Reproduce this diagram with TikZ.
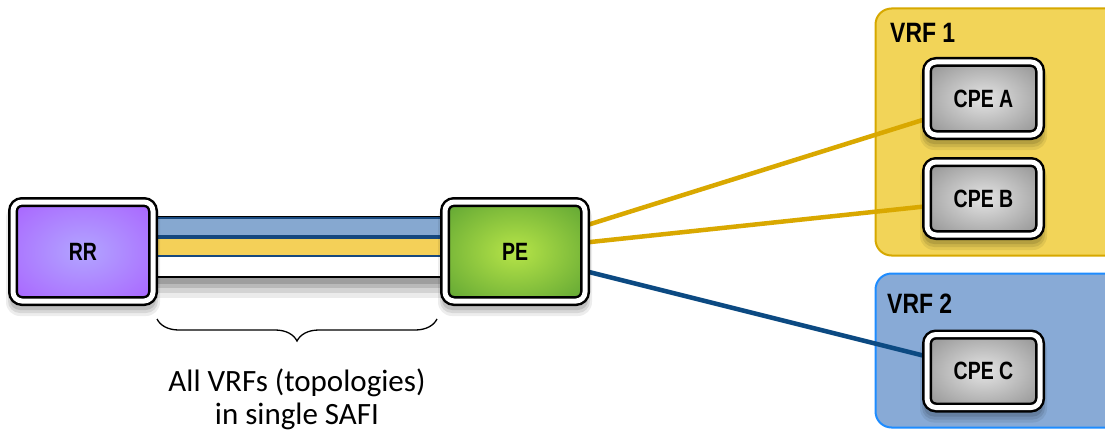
\documentclass[tikz,border=0pt]{standalone}
\usepackage{graphicx}
\usepackage{fontspec}
\setmainfont{Liberation Sans}
\newfontfamily\capfont{Carlito}
\usetikzlibrary{calc,decorations.pathreplacing}

\definecolor{rrin}{RGB}{178,165,255}
\definecolor{rrout}{RGB}{165,72,255}
\definecolor{pein}{RGB}{182,228,72}
\definecolor{peout}{RGB}{58,138,42}
\definecolor{cpein}{RGB}{228,228,228}
\definecolor{cpeout}{RGB}{108,108,108}
\definecolor{vrfAfill}{RGB}{242,212,88}
\definecolor{vrfAline}{RGB}{214,168,0}
\definecolor{vrfBfill}{RGB}{136,170,214}
\definecolor{vrfBline}{RGB}{30,140,255}
\definecolor{ylink}{RGB}{217,168,0}
\definecolor{nlink}{RGB}{12,74,130}
\definecolor{barblue}{RGB}{134,168,208}
\definecolor{baryel}{RGB}{244,208,88}
\definecolor{barline}{RGB}{22,72,126}

\pgfdeclareradialshading{rrshade}{\pgfpointorigin}{color(0bp)=(rrin); color(50bp)=(rrout); color(70bp)=(rrout)}
\pgfdeclareradialshading{peshade}{\pgfpointorigin}{color(0bp)=(pein); color(50bp)=(peout); color(70bp)=(peout)}
\pgfdeclareradialshading{cpeshade}{\pgfpointorigin}{color(0bp)=(cpein); color(50bp)=(cpeout); color(70bp)=(cpeout)}

\pgfdeclarelayer{bg}
\pgfdeclarelayer{lines}
\pgfsetlayers{bg,lines,main}

\newcommand{\devlabel}[1]{\scalebox{0.78}[1]{\fontsize{25}{30}\selectfont\bfseries #1}}
\newcommand{\vrflabel}[1]{\scalebox{0.82}[1]{\fontsize{28}{32}\selectfont\bfseries #1}}
% soft shadow under a named node
\newcommand{\nodeshadow}[1]{%
  \fill[black, opacity=0.07, rounded corners=14pt] ($(#1.south west)+(-7,-15)$) rectangle ($(#1.north east)+(7,-2)$);
  \fill[black, opacity=0.09, rounded corners=12pt] ($(#1.south west)+(-5,-12)$) rectangle ($(#1.north east)+(5,-4)$);
  \fill[black, opacity=0.11, rounded corners=10pt] ($(#1.south west)+(-3,-9)$) rectangle ($(#1.north east)+(3,-6)$);
}

\tikzset{
  devbox/.style={draw=black, line width=2.5pt, double=white, double distance=5pt,
    rounded corners=9pt, inner sep=0pt, outer sep=0pt, shade,
    minimum width=140pt, minimum height=99pt},
  cpebox/.style={devbox, shading=cpeshade, minimum width=113pt, minimum height=73pt},
  vrfbox/.style={line width=2pt, rounded corners=16pt, inner sep=0pt, outer sep=0pt,
    anchor=north west},
  vrflbl/.style={inner sep=0pt, anchor=base west},
  ylinkline/.style={draw=ylink, line width=4.5pt},
  nlinkline/.style={draw=nlink, line width=4.5pt},
  tubebox/.style={draw=black, line width=2.5pt, fill=white},
  tubeshadow/.style={fill=black},
  barbox/.style={draw=barline, line width=2pt},
  bracestyle/.style={draw=black, line width=1.3pt, decorate,
    decoration={brace, mirror, amplitude=22pt}},
  capt/.style={font=\capfont\fontsize{31}{33}\selectfont, align=center, inner sep=0pt}
}

\begin{document}
\begin{tikzpicture}[x=1pt, y=1pt]
\useasboundingbox (0,0) rectangle (1105,432);

% devices
\node[devbox, shading=rrshade] (rr) at (83,180.5) {\devlabel{RR}};
\node[devbox, shading=peshade] (pe) at (515,180.5) {\devlabel{PE}};
\node[cpebox] (cpea) at (983.5,333.5) {\devlabel{CPE A}};
\node[cpebox] (cpeb) at (983.5,233.5) {\devlabel{CPE B}};
\node[cpebox] (cpec) at (983.5,61) {\devlabel{CPE C}};

% VRF areas
\begin{pgfonlayer}{bg}
\fill[white] (0,0) rectangle (1105,432);
\node[vrfbox, fill=vrfAfill, draw=vrfAline, minimum width=250pt, minimum height=247pt] (vrf1) at (875.5,423.5) {};
\node[vrfbox, fill=vrfBfill, draw=vrfBline, minimum width=250pt, minimum height=154pt] (vrf2) at (875.5,158.5) {};
\end{pgfonlayer}
\node[vrflbl] (vrf1lbl) at (890,389) {\vrflabel{VRF 1}};
\node[vrflbl] (vrf2lbl) at (887,119) {\vrflabel{VRF 2}};

% connectors and shadows
\begin{pgfonlayer}{lines}
\draw[ylinkline] ($(pe.east)+(-4,24.5)$) -- ($(cpea.west)+(2,-19.5)$);
\draw[ylinkline] ($(pe.east)+(-4,8.5)$) -- ($(cpeb.west)+(2,-7.5)$);
\draw[nlinkline] ($(pe.east)+(-4,-18.5)$) -- ($(cpec.west)+(2,14)$);
% tube shadow
\fill[black, opacity=0.08] ($(rr.east)+(0,-10)$) rectangle ($(pe.west)+(0,-46)$);
\fill[black, opacity=0.10] ($(rr.east)+(0,-10)$) rectangle ($(pe.west)+(0,-41)$);
\fill[black, opacity=0.12] ($(rr.east)+(0,-10)$) rectangle ($(pe.west)+(0,-36)$);
\fill[black, opacity=0.14] ($(rr.east)+(0,-10)$) rectangle ($(pe.west)+(0,-32)$);
\path[tubebox] ($(rr.east)+(-5,34.5)$) rectangle ($(pe.west)+(5,-25.5)$);
\path[barbox, fill=barblue] ($(rr.east)+(-2,34)$) rectangle ($(pe.west)+(2,16)$);
\path[barbox, fill=baryel] ($(rr.east)+(-2,13.5)$) rectangle ($(pe.west)+(2,-4.5)$);
\nodeshadow{rr}
\nodeshadow{pe}
\nodeshadow{cpea}
\nodeshadow{cpeb}
\nodeshadow{cpec}
\end{pgfonlayer}

% brace and caption
\draw[bracestyle] ($(rr.south east)+(4,-18)$) -- ($(pe.south west)+(-8,-18)$);
\node[capt] (cap) at (297,33) {All VRFs (topologies)\\in single SAFI};
\end{tikzpicture}
\end{document}
